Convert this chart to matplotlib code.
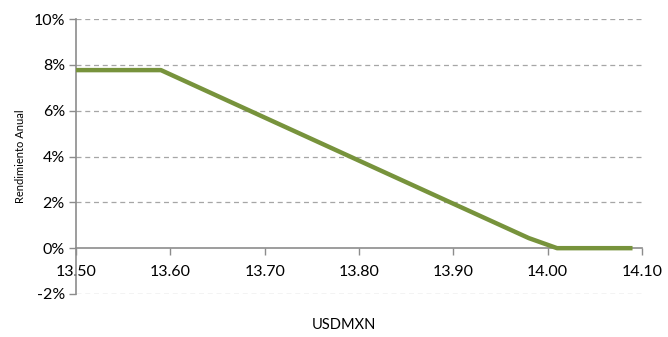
import matplotlib.pyplot as plt
from matplotlib.ticker import FuncFormatter

plt.rcParams['font.family'] = ['Lato', 'DejaVu Sans']

usdmxn = [13.50, 13.59, 13.70, 13.80, 13.90, 13.98, 14.01, 14.09]
rendimiento = [7.77, 7.77, 5.70, 3.82, 1.94, 0.44, 0.0, 0.0]

x_ticks = [13.50, 13.60, 13.70, 13.80, 13.90, 14.00, 14.10]
y_ticks = [-2, 0, 2, 4, 6, 8, 10]

gris = '#8c8c8c'

fig = plt.figure(figsize=(6.68, 3.37), dpi=100)
ax = fig.add_axes([0.1138, 0.1276, 0.8472, 0.816])

for y in y_ticks:
    if y != 0:
        ax.axhline(y, color='#a6a6a6', lw=0.9, ls=(0, (4, 3)), zorder=1)

ax.plot(usdmxn, rendimiento, color='#77933c', lw=3.2, solid_capstyle='butt',
        solid_joinstyle='round', zorder=3)

ax.set_xlim(13.50, 14.10)
ax.set_ylim(-2, 10)
ax.set_xticks(x_ticks)
ax.set_yticks(y_ticks)
ax.xaxis.set_major_formatter(FuncFormatter(lambda v, p: f'{v:.2f}'))
ax.yaxis.set_major_formatter(FuncFormatter(lambda v, p: f'{v:.0f}%'.replace('\u2212', '-')))

ax.spines['top'].set_visible(False)
ax.spines['right'].set_visible(False)
ax.spines['bottom'].set_position(('data', 0))
for s in ('left', 'bottom'):
    ax.spines[s].set_color(gris)
    ax.spines[s].set_linewidth(1.2)

ax.tick_params(axis='x', direction='out', length=5, width=1, color=gris,
               pad=7, labelsize=11.5, labelcolor='black')
ax.tick_params(axis='y', direction='out', length=5, width=1, color=gris,
               pad=3, labelsize=11.5, labelcolor='black')

ax.set_ylabel('Rendimiento Anual', fontsize=8, labelpad=5)
fig.text(0.515, 0.035, 'USDMXN', ha='center', va='center', fontsize=10.5)

fig.savefig('out.png', dpi=100)
